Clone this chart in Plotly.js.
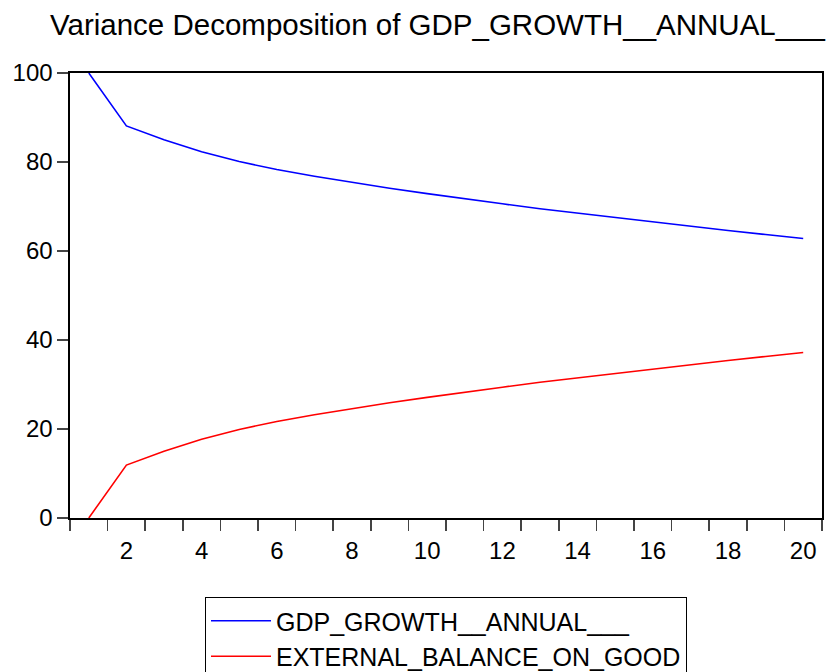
<!DOCTYPE html>
<html>
<head>
<meta charset="utf-8">
<script src="https://cdn.plot.ly/plotly-3.0.1.min.js"></script>
<style>html,body{margin:0;padding:0;background:#fff;}#chart{width:836px;height:672px;}</style>
</head>
<body>
<div id="chart"></div>
<script>
const periods = [1,2,3,4,5,6,7,8,9,10,11,12,13,14,15,16,17,18,19,20];
const gdpGrowth = [100,88.1,85.0,82.3,80.1,78.3,76.8,75.4,74.1,72.9,71.7,70.6,69.5,68.5,67.5,66.5,65.5,64.6,63.7,62.8];
const externalBalance = [0,11.9,15.0,17.7,19.9,21.7,23.2,24.6,25.9,27.1,28.3,29.4,30.5,31.5,32.5,33.5,34.5,35.4,36.3,37.2];
const seriesNames = ["GDP_GROWTH__ANNUAL___","EXTERNAL_BALANCE_ON_GOOD"];
const xTickVals = [2,4,6,8,10,12,14,16,18,20];
const yTickVals = [0,20,40,60,80,100];
const titleText = "Variance Decomposition of GDP_GROWTH__ANNUAL___";

const font = "Liberation Sans, Arial, sans-serif";
const traces = [
  {x: periods, y: gdpGrowth, name: seriesNames[0], type: "scatter", mode: "lines",
   line: {color: "#0000FF", width: 1.6}},
  {x: periods, y: externalBalance, name: seriesNames[1], type: "scatter", mode: "lines",
   line: {color: "#FF0000", width: 1.6}}
];
const layout = {
  width: 836, height: 672,
  margin: {l: 70, r: 14, t: 73, b: 154, autoexpand: false},
  paper_bgcolor: "#fff", plot_bgcolor: "#fff",
  showlegend: true,
  title: {text: titleText, font: {family: font, size: 29.5, color: "#000"},
          x: 50 / 836, xref: "container", xanchor: "left",
          y: 1 - 25 / 672, yref: "container", yanchor: "middle"},
  xaxis: {range: [0.5, 20.5], tickvals: xTickVals, ticktext: xTickVals.map(String),
          ticks: "outside", ticklen: 11, tickcolor: "rgba(0,0,0,0)",
          minor: {tick0: 0.5, dtick: 1, ticks: "outside", ticklen: 11, tickcolor: "#444", tickwidth: 1.5},
          showgrid: false, zeroline: false, showline: true, mirror: true,
          linecolor: "#000", linewidth: 1.6,
          tickfont: {family: font, size: 24, color: "#000"}},
  yaxis: {range: [0, 100], tickvals: yTickVals, ticks: "outside", ticklen: 11,
          tickcolor: "#444", tickwidth: 1.5,
          showgrid: false, zeroline: false, showline: true, mirror: true,
          linecolor: "#000", linewidth: 1.6,
          tickfont: {family: font, size: 24, color: "#000"}},
  legend: {x: 0.5, xanchor: "center", y: 1 - 597 / 672, yref: "container", yanchor: "top",
           bordercolor: "#000", borderwidth: 1, bgcolor: "#fff", itemwidth: 60,
           font: {family: font, size: 25, color: "#000"}, tracegroupgap: 0}
};
Plotly.newPlot("chart", traces, layout, {displayModeBar: false, staticPlot: true});
</script>
</body>
</html>
